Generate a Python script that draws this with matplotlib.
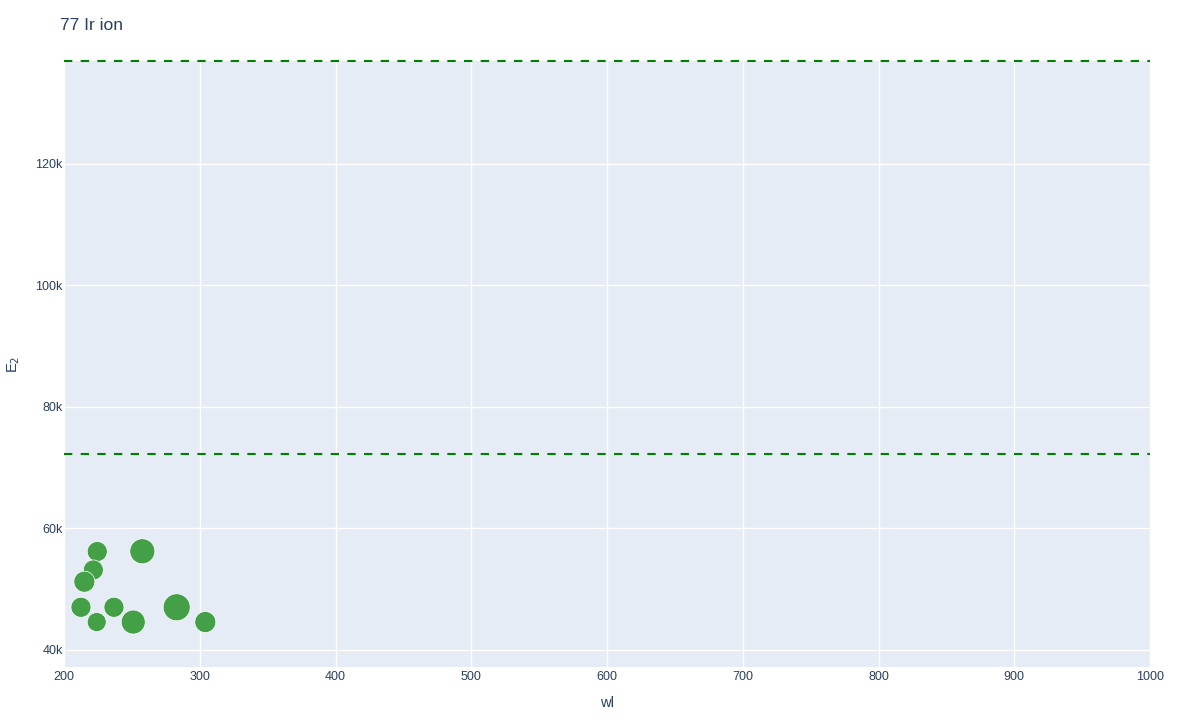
import numpy as np
import matplotlib
matplotlib.use('Agg')
import matplotlib.pyplot as plt
from matplotlib.ticker import FuncFormatter

plt.rcParams['font.family'] = ['Liberation Sans', 'DejaVu Sans']

# values
wl = [224.5, 257.7, 221.6, 215.0, 212.5, 236.8, 224.1, 251.0, 283.0, 304.1]
E2 = [56200, 56250, 53170, 51240, 47030, 47030, 44600, 44600, 47030, 44600]
diam_px = [20, 25, 20, 21, 20, 20, 19, 24, 27, 21]
levels = [136950, 72260]

fig = plt.figure(figsize=(12, 7.2), dpi=100)
ax = fig.add_axes([64/1200, 1-667/720, (1150-64)/1200, (667-61)/720])
ax.set_facecolor('#E5ECF6')
for s in ax.spines.values():
	s.set_visible(False)

ax.set_xlim(200, 1000)
ax.set_ylim(37200, 136950)
ax.set_xticks(range(200, 1001, 100))
ax.set_yticks([40000, 60000, 80000, 100000, 120000])
ax.yaxis.set_major_formatter(FuncFormatter(lambda v, p: '%dk' % (v/1000)))
ax.grid(color='white', lw=1)
ax.set_axisbelow(True)
ax.tick_params(length=0, labelsize=9, colors='#2a3f5f')
ax.tick_params(axis='y', pad=1)
ax.tick_params(axis='x', pad=3)

sizes = [(d*0.72)**2 for d in diam_px]
ax.scatter(wl, E2, s=sizes, color='#43a047', edgecolors='white', linewidths=0.5, zorder=3)

for lv in levels:
	ax.axhline(lv, color='green', lw=1.5, ls=(0, (4, 4)), clip_on=False, zorder=4)

ax.set_xlabel('wl', fontsize=10.5, color='#2a3f5f')
ax.xaxis.set_label_coords(0.5, -(696-667)/606)
ax.set_ylabel('E$_2$', fontsize=10.5, color='#2a3f5f')
ax.yaxis.set_label_coords(-(64-22)/1086, 0.5)
fig.text(60/1200, 1-25/720, '77 Ir ion', fontsize=12.5, color='#2a3f5f', va='center')

fig.savefig('out.png', dpi=100)
